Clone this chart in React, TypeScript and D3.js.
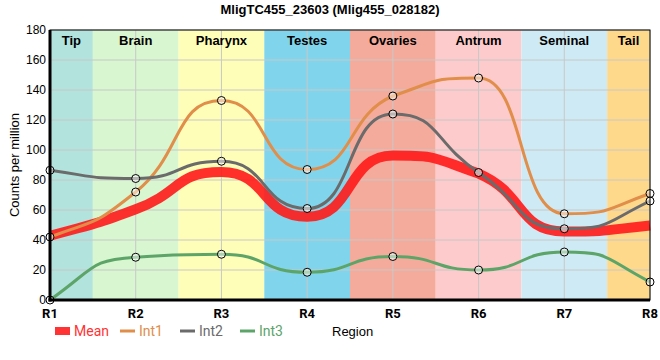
import React, { useEffect, useRef } from 'react';
import * as d3 from 'd3';

const regions = ['R1', 'R2', 'R3', 'R4', 'R5', 'R6', 'R7', 'R8'];
const tissues = ['Tip', 'Brain', 'Pharynx', 'Testes', 'Ovaries', 'Antrum', 'Seminal', 'Tail'];
const tissueColors = ['#b3e3dd', '#d8f6d0', '#fefeb8', '#80d5ec', '#f5ab9c', '#fdcbcb', '#ceebf5', '#fed98c'];
const mean = [42.8, 60.5, 85.3, 55.5, 96.3, 84.3, 45.7, 49.7];
const int1 = [42, 72, 133, 87, 136, 148, 57.5, 71];
const int2 = [86.5, 81, 92.5, 61, 124, 85, 47.5, 66];
const int3 = [0, 28.5, 30.5, 18.5, 29, 20, 32, 12];
const yTicks = [0, 20, 40, 60, 80, 100, 120, 140, 160, 180];

// monotone tangents with longer bezier handles, so the line sits flatter
// at each turning point and changes faster in between
function stretchedMonotone(context: any) {
  let xs: number[] = [];
  let ys: number[] = [];
  const a = 0.55;
  return {
    lineStart() {
      xs = [];
      ys = [];
    },
    lineEnd() {
      const n = xs.length;
      if (!n) return;
      context.moveTo(xs[0], ys[0]);
      if (n === 1) return;
      const s: number[] = [];
      for (let i = 0; i < n - 1; i++) s.push((ys[i + 1] - ys[i]) / (xs[i + 1] - xs[i]));
      const m: number[] = new Array(n).fill(0);
      for (let i = 1; i < n - 1; i++) {
        const h0 = xs[i] - xs[i - 1],
          h1 = xs[i + 1] - xs[i];
        const p = (s[i - 1] * h1 + s[i] * h0) / (h0 + h1);
        m[i] = (Math.sign(s[i - 1]) + Math.sign(s[i])) * Math.min(Math.abs(s[i - 1]), Math.abs(s[i]), 0.5 * Math.abs(p)) || 0;
      }
      m[0] = n > 2 ? (3 * s[0] - m[1]) / 2 : s[0];
      m[n - 1] = n > 2 ? (3 * s[n - 2] - m[n - 2]) / 2 : s[0];
      for (let i = 0; i < n - 1; i++) {
        const dx = xs[i + 1] - xs[i];
        const dy = ys[i + 1] - ys[i];
        const clamp = (v: number) => Math.sign(v) * Math.min(Math.abs(v), Math.abs(dy) * 0.9);
        context.bezierCurveTo(
          xs[i] + a * dx,
          ys[i] + clamp(m[i] * a * dx),
          xs[i + 1] - a * dx,
          ys[i + 1] - clamp(m[i + 1] * a * dx),
          xs[i + 1],
          ys[i + 1]
        );
      }
    },
    areaStart() {},
    areaEnd() {},
    point(x: number, y: number) {
      xs.push(+x);
      ys.push(+y);
    },
  };
}

const Chart = () => {
  const ref = useRef<SVGSVGElement>(null);

  useEffect(() => {
    const width = 660,
      height = 360;
    const svg = d3.select(ref.current).attr('width', width).attr('height', height);
    svg.selectAll('*').remove();

    const left = 50,
      right = 650,
      top = 30,
      bottom = 300;
    const x = d3.scalePoint<string>().domain(regions).range([left, right]);
    const y = d3.scaleLinear().domain([0, 180]).range([bottom, top]);
    const step = x.step();
    const bandX0 = (i: number) => Math.max(left, x(regions[i])! - step / 2);
    const bandX1 = (i: number) => Math.min(right, x(regions[i])! + step / 2);

    // tissue bands
    const g = svg.append('g');
    g.selectAll('rect.band')
      .data(tissues)
      .enter()
      .append('rect')
      .attr('x', (_, i) => bandX0(i))
      .attr('width', (_, i) => bandX1(i) - bandX0(i))
      .attr('y', top)
      .attr('height', bottom - top)
      .attr('fill', (_, i) => tissueColors[i]);

    // grid
    g.selectAll('line.hg')
      .data(yTicks)
      .enter()
      .append('line')
      .attr('x1', left)
      .attr('x2', right)
      .attr('y1', (d) => y(d))
      .attr('y2', (d) => y(d))
      .attr('stroke', '#c8c8c8');
    g.selectAll('line.vg')
      .data(regions)
      .enter()
      .append('line')
      .attr('x1', (d) => x(d)!)
      .attr('x2', (d) => x(d)!)
      .attr('y1', top)
      .attr('y2', bottom)
      .attr('stroke', '#c8c8c8');

    g.selectAll('text.tissue')
      .data(tissues)
      .enter()
      .append('text')
      .attr('x', (_, i) => (bandX0(i) + bandX1(i)) / 2)
      .attr('y', top + 15)
      .attr('text-anchor', 'middle')
      .attr('font-family', 'Arial, Liberation Sans, sans-serif')
      .attr('font-weight', 'bold')
      .attr('font-size', 13)
      .text((d) => d);

    const line = d3
      .line<number>()
      .x((_, i) => x(regions[i])!)
      .y((d) => y(d))
      .curve(stretchedMonotone as any);

    const series = [
      { vals: int1, color: '#e08e4a' },
      { vals: int2, color: '#6b6b6b' },
      { vals: int3, color: '#5da468' },
    ];

    svg
      .append('path')
      .attr('d', line(mean))
      .attr('fill', 'none')
      .attr('stroke', '#ff1a1a')
      .attr('stroke-opacity', 0.9)
      .attr('stroke-width', 10);

    series.forEach((s) => {
      svg
        .append('path')
        .attr('d', line(s.vals))
        .attr('fill', 'none')
        .attr('stroke', s.color)
        .attr('stroke-width', 3);
    });
    series.forEach((s) => {
      svg
        .append('g')
        .selectAll('circle')
        .data(s.vals)
        .enter()
        .append('circle')
        .attr('cx', (_, i) => x(regions[i])!)
        .attr('cy', (d) => y(d))
        .attr('r', 4)
        .attr('fill', 'rgba(255,255,255,0.5)')
        .attr('stroke', '#000')
        .attr('stroke-width', 1);
    });

    // frame
    svg
      .append('rect')
      .attr('x', left)
      .attr('y', top)
      .attr('width', right - left)
      .attr('height', bottom - top)
      .attr('fill', 'none')
      .attr('stroke', '#000')
      .attr('stroke-width', 1);
    svg.append('line').attr('x1', left).attr('x2', left).attr('y1', top).attr('y2', bottom + 1.5).attr('stroke', '#000').attr('stroke-width', 3);
    svg.append('line').attr('x1', left - 1.5).attr('x2', right).attr('y1', bottom).attr('y2', bottom).attr('stroke', '#000').attr('stroke-width', 3);

    svg
      .append('g')
      .selectAll('text')
      .data(yTicks)
      .enter()
      .append('text')
      .attr('x', left - 4)
      .attr('y', (d) => y(d) + 4)
      .attr('text-anchor', 'end')
      .attr('font-family', 'Arial, Liberation Sans, sans-serif')
      .attr('font-size', 12)
      .text((d) => d);

    svg
      .append('g')
      .selectAll('text')
      .data(regions)
      .enter()
      .append('text')
      .attr('x', (d) => x(d)!)
      .attr('y', bottom + 18)
      .attr('text-anchor', 'middle')
      .attr('font-family', 'Roboto, Arial, sans-serif')
      .attr('font-weight', 'bold')
      .attr('font-size', 13)
      .text((d) => d);

    svg
      .append('text')
      .attr('x', 330)
      .attr('y', 14)
      .attr('text-anchor', 'middle')
      .attr('font-family', 'Arial, Liberation Sans, sans-serif')
      .attr('font-weight', 'bold')
      .attr('font-size', 13)
      .text('MligTC455_23603 (Mlig455_028182)');

    svg
      .append('text')
      .attr('transform', 'translate(19,165) rotate(-90)')
      .attr('text-anchor', 'middle')
      .attr('font-family', 'Arial, Liberation Sans, sans-serif')
      .attr('font-size', 13)
      .text('Counts per million');

    svg
      .append('text')
      .attr('x', 332)
      .attr('y', 336)
      .attr('font-family', 'Arial, Liberation Sans, sans-serif')
      .attr('font-size', 13)
      .text('Region');

    // legend
    const legend = [
      { name: 'Mean', color: '#ff3333', x: 55, rect: true },
      { name: 'Int1', color: '#e08e4a', x: 120, rect: false },
      { name: 'Int2', color: '#6b6b6b', x: 180, rect: false },
      { name: 'Int3', color: '#5da468', x: 240, rect: false },
    ];
    const lg = svg.append('g');
    legend.forEach((l) => {
      if (l.rect) {
        lg.append('rect').attr('x', l.x).attr('y', 327).attr('width', 15).attr('height', 8).attr('fill', l.color);
      } else {
        lg.append('line').attr('x1', l.x).attr('x2', l.x + 15).attr('y1', 331).attr('y2', 331).attr('stroke', l.color).attr('stroke-width', 3);
      }
      lg.append('text')
        .attr('x', l.x + 19)
        .attr('y', 336)
        .attr('fill', l.color)
        .attr('font-family', 'Roboto, Arial, sans-serif')
        .attr('font-size', 14)
        .text(l.name);
    });
  }, []);

  return <svg ref={ref} style={{ position: 'absolute', left: 0, top: 0 }} />;
};

export default function App() {
  return <Chart />;
}
